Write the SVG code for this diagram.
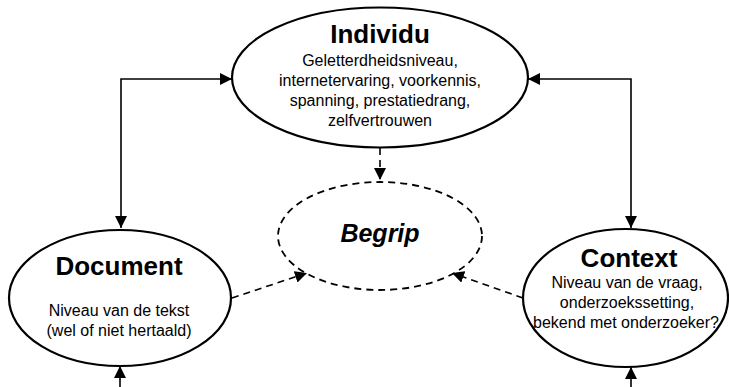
<svg xmlns="http://www.w3.org/2000/svg" width="729" height="387" viewBox="0 0 729 387">
<defs>
<style>
.node{fill:#fff;stroke:#000;stroke-width:2.2}
.dnode{fill:#fff;stroke:#000;stroke-width:1.8;stroke-dasharray:7 5}
.t{font-family:"Liberation Sans",Arial,sans-serif;fill:#000;text-anchor:middle}
.title{font-size:26px;font-weight:bold}
.body{font-size:16px}
.conn{fill:none;stroke:#000;stroke-width:1.6}
.dconn{fill:none;stroke:#000;stroke-width:1.6;stroke-dasharray:7 5}
</style>
<marker id="ah" viewBox="0 0 10 10" refX="10" refY="5" markerWidth="12" markerHeight="12" markerUnits="userSpaceOnUse" orient="auto-start-reverse">
<path d="M0,0 L10,5 L0,10 z" fill="#000"/>
</marker>
</defs>
<g id="connectors">
<polyline class="conn" points="232,79 121,79 121,228" marker-start="url(#ah)" marker-end="url(#ah)"/>
<polyline class="conn" points="528,79 631,79 631,228" marker-start="url(#ah)" marker-end="url(#ah)"/>
<line class="conn" x1="120" y1="387" x2="120" y2="366" marker-end="url(#ah)"/>
<line class="conn" x1="631" y1="387" x2="631" y2="367" marker-end="url(#ah)"/>
<line class="dconn" x1="380" y1="148" x2="380" y2="180" marker-end="url(#ah)"/>
<line class="dconn" x1="232" y1="298" x2="307" y2="273" marker-end="url(#ah)"/>
<line class="dconn" x1="523" y1="298" x2="452" y2="273" marker-end="url(#ah)"/>
</g>
<g id="individu">
<ellipse class="node" cx="380" cy="77.5" rx="148" ry="70"/>
<text class="t title" x="380" y="43">Individu</text>
<text class="t body" x="380" y="66">Geletterdheidsniveau,</text>
<text class="t body" x="380" y="86">internetervaring, voorkennis,</text>
<text class="t body" x="380" y="106">spanning, prestatiedrang,</text>
<text class="t body" x="380" y="126">zelfvertrouwen</text>
</g>
<g id="begrip">
<ellipse class="dnode" cx="380" cy="236" rx="102" ry="54"/>
<text class="t" x="380" y="242" style="font-size:25px;font-weight:bold;font-style:italic">Begrip</text>
</g>
<g id="document">
<ellipse class="node" cx="120" cy="298" rx="111" ry="68"/>
<text class="t title" x="119" y="275">Document</text>
<text class="t body" x="119" y="316">Niveau van de tekst</text>
<text class="t body" x="119" y="336">(wel of niet hertaald)</text>
</g>
<g id="context">
<ellipse class="node" cx="625.5" cy="298" rx="102.5" ry="69"/>
<text class="t title" x="629" y="267">Context</text>
<text class="t body" x="627" y="288">Niveau van de vraag,</text>
<text class="t body" x="627" y="308">onderzoekssetting,</text>
<text class="t body" x="626" y="328">bekend met onderzoeker?</text>
</g>
</svg>
